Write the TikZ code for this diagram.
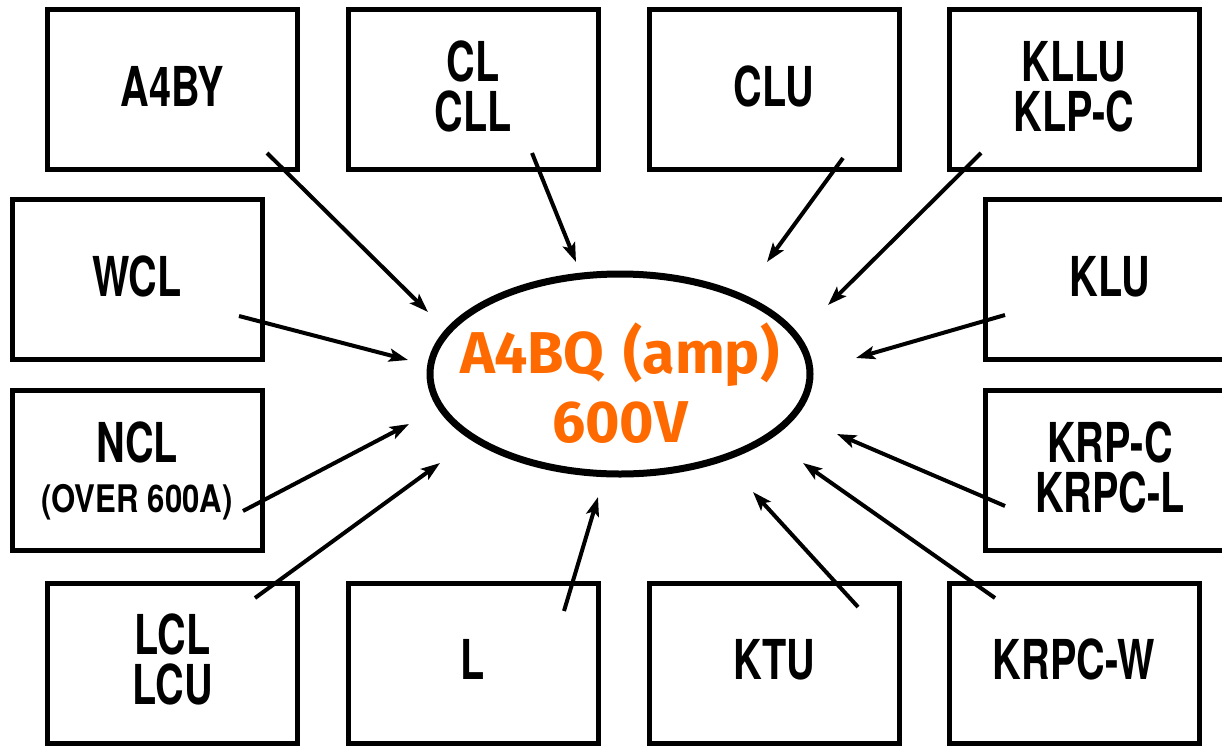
\documentclass[tikz,border=0pt]{standalone}
\usepackage{fontspec}
\setmainfont[FakeStretch=0.72]{TeX Gyre Heros}
\newfontfamily\notefont[FakeStretch=0.82]{TeX Gyre Heros}
\newfontfamily\ampfont{Fira Sans}
\usetikzlibrary{arrows.meta,shapes.geometric}
\definecolor{amporange}{HTML}{FF6A00}
\tikzset{
  fuse/.style={draw, line width=5pt, minimum width=250pt, minimum height=160pt,
    inner sep=0pt, align=center, text depth=7pt, font=\bfseries\fontsize{55}{50}\selectfont},
  feed/.style={line width=4pt, -{Stealth[length=19pt,width=13pt,inset=4pt]}},
}
\begin{document}
\begin{tikzpicture}[x=1pt,y=-1pt]
    \useasboundingbox (0,0) rectangle (1222,747);
    \clip (0,0) rectangle (1222,747);
    % Top row
    \node[fuse] (a4by) at (172.5,89.5) {A4BY};
    \node[fuse] (cl) at (473,89.5) {CL\\CLL};
    \node[fuse] (clu) at (774,89.5) {CLU};
    \node[fuse] (kllu) at (1074,89.5) {KLLU\\KLP-C};
    % Left side
    \node[fuse] (wcl) at (137,279.5) {WCL};
    \node[fuse] (ncl) at (137,470.5) {NCL\\{\notefont\fontsize{38}{42}\selectfont (OVER 600A)}};
    % Right side
    \node[fuse] (klu) at (1110,279.5) {KLU};
    \node[fuse] (krpc) at (1110,470.5) {KRP-C\\KRPC-L};
    % Bottom row
    \node[fuse] (lcl) at (172.5,663) {LCL\\LCU};
    \node[fuse] (l) at (473,663) {L};
    \node[fuse] (ktu) at (774,663) {KTU};
    \node[fuse] (krpcw) at (1074,663) {KRPC-W};
    % Centre
    \node[draw, ellipse, line width=7pt, minimum width=380pt, minimum height=200pt] (amp) at (620,374) {};
    \node[font=\ampfont\bfseries\fontsize{59}{69}\selectfont, text=amporange, align=center] (amplabel) at (620,383) {A4BQ\hspace{5pt} (amp)\\600V};
    % Arrow ends
    \coordinate (a4by-s) at (267,153);  \coordinate (a4by-e) at (428,312);
    \coordinate (cl-s) at (532,153);    \coordinate (cl-e) at (576,262);
    \coordinate (clu-s) at (843,158);   \coordinate (clu-e) at (767,262);
    \coordinate (kllu-s) at (981,153);  \coordinate (kllu-e) at (828,305);
    \coordinate (wcl-s) at (239,316);   \coordinate (wcl-e) at (408,360);
    \coordinate (ncl-s) at (243,511);   \coordinate (ncl-e) at (409,424);
    \coordinate (klu-s) at (1005,315);  \coordinate (klu-e) at (856,358);
    \coordinate (krpc-s) at (1005,506); \coordinate (krpc-e) at (837,434);
    \coordinate (lcl-s) at (255,598);   \coordinate (lcl-e) at (440,463);
    \coordinate (l-s) at (564,611);     \coordinate (l-e) at (598,497);
    \coordinate (ktu-s) at (858,607);   \coordinate (ktu-e) at (753,492);
    \coordinate (krpcw-s) at (995,598); \coordinate (krpcw-e) at (803,463);
    % Arrows
    \foreach \n in {a4by,cl,clu,kllu,wcl,ncl,klu,krpc,lcl,l,ktu,krpcw}
        \draw[feed] (\n-s) -- (\n-e);
\end{tikzpicture}
\end{document}
